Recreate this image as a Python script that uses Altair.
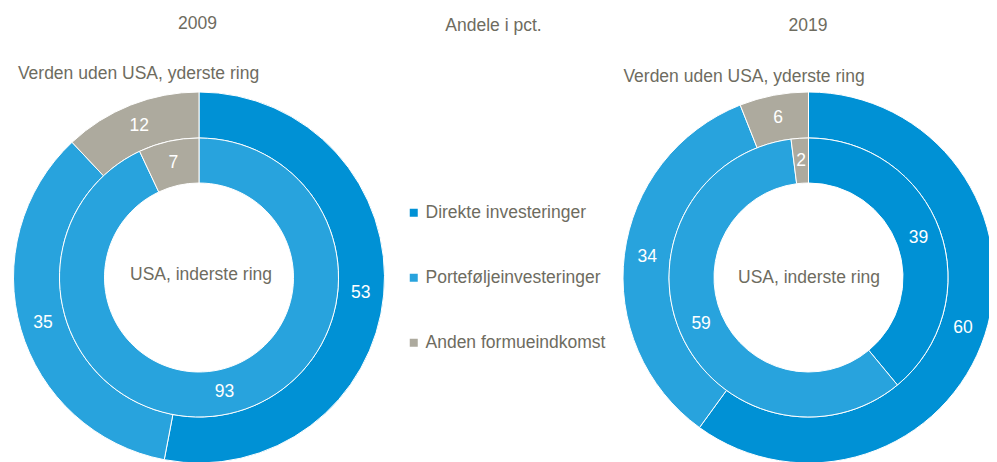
import altair as alt
import pandas as pd

# ---- data ----
categories = ["Direkte investeringer", "Porteføljeinvesteringer", "Anden formueindkomst"]
colors = ["#0091d5", "#28a3dd", "#adaa9e"]
years = ["2009", "2019"]
outer_2009 = [53, 35, 12]   # Verden uden USA, yderste ring
inner_2009 = [0, 93, 7]     # USA, inderste ring
outer_2019 = [60, 34, 6]
inner_2019 = [39, 59, 2]

series = [
    ("2009", "outer", outer_2009),
    ("2009", "inner", inner_2009),
    ("2019", "outer", outer_2019),
    ("2019", "inner", inner_2019),
]
rows = []
for year, ring, vals in series:
    for i, (c, v) in enumerate(zip(categories, vals)):
        rows.append({"year": year, "ring": ring, "category": c, "idx": i, "value": v})
df = pd.DataFrame(rows)

# ---- style / layout ----
FONT = "Liberation Sans"
GREY = "#6e6c5f"
FS = 17.5
centers = {"2009": 191, "2019": 800.5}
CY = 269.5
rings = {"outer": (139.5, 185.5), "inner": (94.5, 139.5)}

color = alt.Color(
    "category:N",
    scale=alt.Scale(domain=categories, range=colors),
    sort=categories,
    legend=alt.Legend(
        orient="none", legendX=397, legendY=196, title=None,
        symbolType="square", symbolSize=64, symbolStrokeWidth=0,
        labelFont=FONT, labelFontSize=FS, labelColor=GREY, labelLimit=400,
        rowPadding=46, labelOffset=3, padding=0,
    ),
)

base = alt.Chart(df)
layers = []
for year in years:
    cx = centers[year]
    for ring, (r0, r1) in rings.items():
        sub = base.transform_filter((alt.datum.year == year) & (alt.datum.ring == ring))
        arc = sub.mark_arc(innerRadius=r0, outerRadius=r1, stroke="white", strokeWidth=1).encode(
            theta=alt.Theta("value:Q", stack=True),
            order=alt.Order("idx:Q"),
            color=color,
            x=alt.value(cx),
            y=alt.value(CY),
        )
        txt = sub.transform_filter(alt.datum.value > 0).mark_text(
            radius=(r0 + r1) / 2, color="white", font=FONT, fontSize=FS, baseline="middle", align="center"
        ).encode(
            theta=alt.Theta("value:Q", stack=True),
            order=alt.Order("idx:Q"),
            text=alt.Text("value:Q"),
            x=alt.value(cx),
            y=alt.value(CY),
        )
        layers += [arc, txt]

dummy = alt.Data(values=[{"a": 1}])
annotations = [
    ("2009", 189.5, 21),
    ("Andele i pct.", 485.5, 23),
    ("2019", 800, 23),
    ("Verden uden USA, yderste ring", 130.5, 71),
    ("Verden uden USA, yderste ring", 736, 74),
    ("USA, inderste ring", 193, 272),
    ("USA, inderste ring", 801, 275),
]
for t, x, y in annotations:
    layers.append(
        alt.Chart(dummy).mark_text(
            text=t, font=FONT, fontSize=FS, color=GREY, align="center", baseline="alphabetic"
        ).encode(x=alt.value(x), y=alt.value(y))
    )

chart = alt.layer(*layers).properties(
    width=981, height=454, autosize=alt.AutoSizeParams(type="none"), padding=0
).configure_view(stroke=None)

chart.save("out.html", embed_options={"renderer": "svg", "actions": False})
